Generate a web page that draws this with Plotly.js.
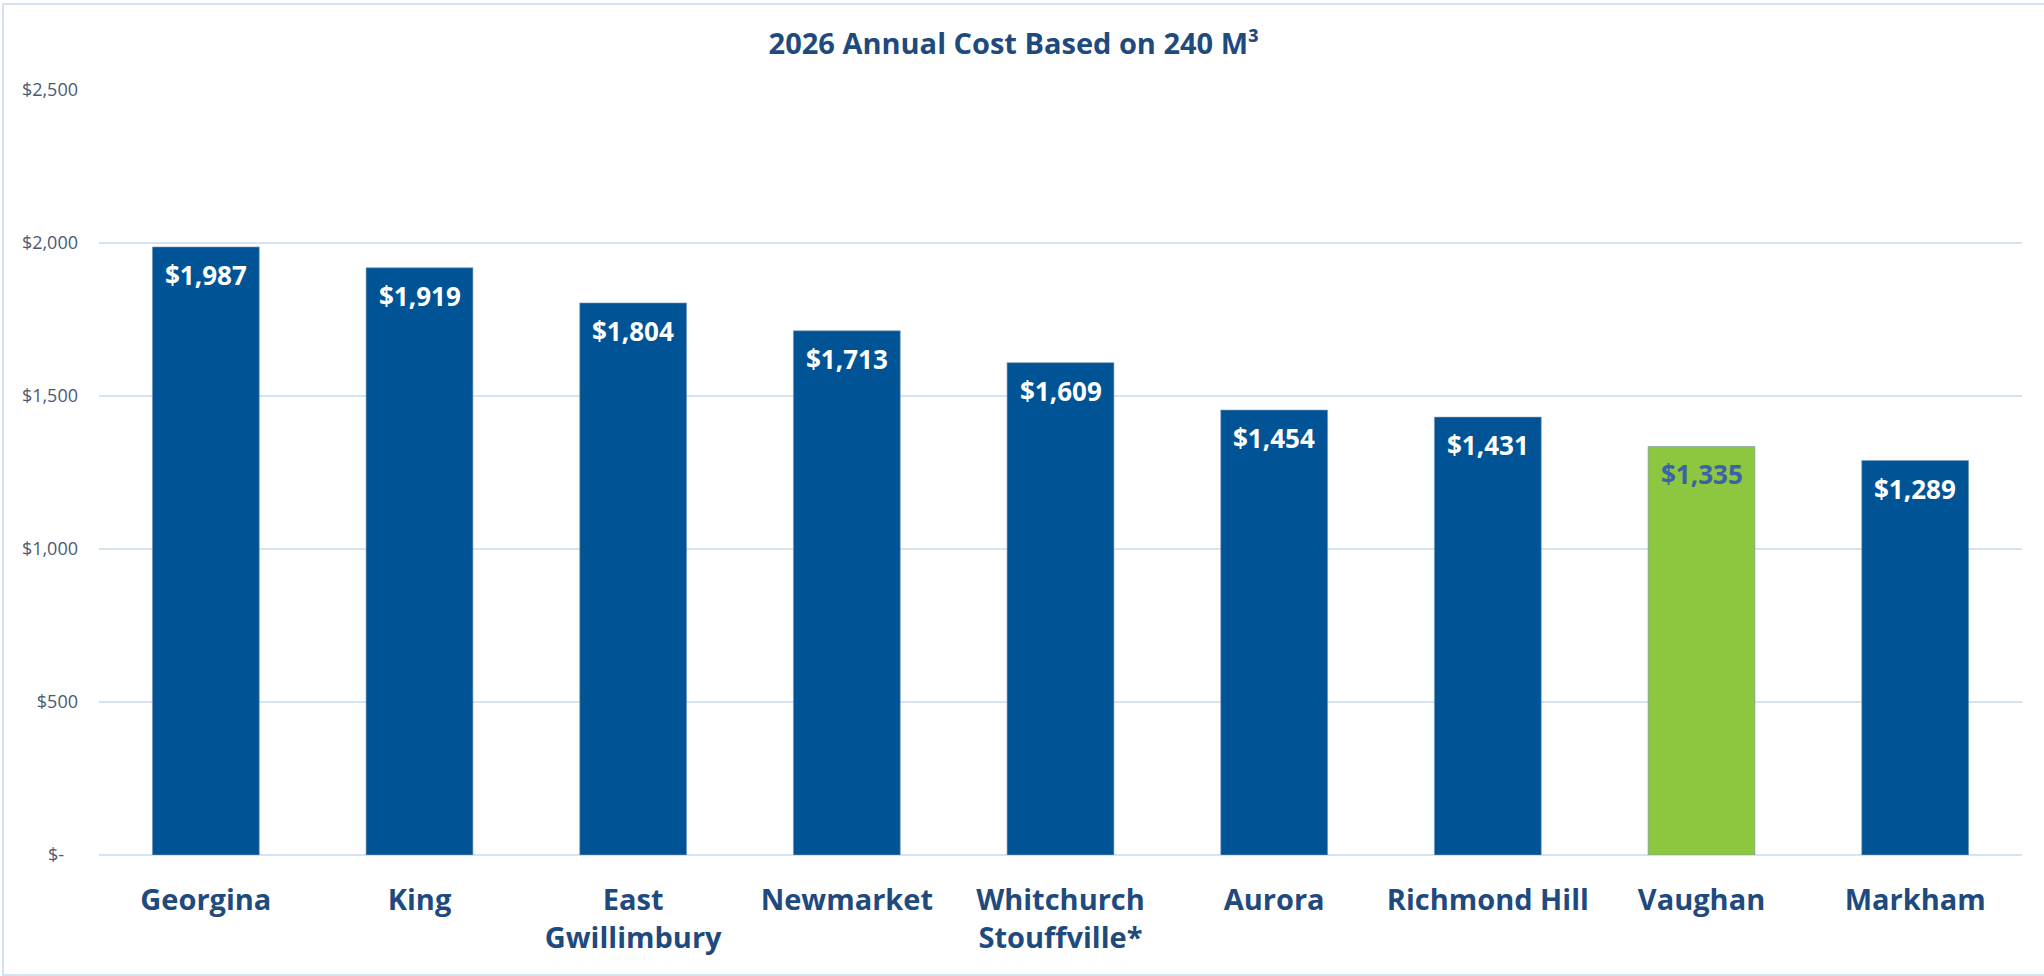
<!DOCTYPE html>
<html>
<head>
<meta charset="utf-8">
<script src="https://cdn.plot.ly/plotly-3.0.1.min.js"></script>
<style>
  html, body { margin: 0; padding: 0; background: #fff; }
  #wrap { position: relative; width: 2044px; height: 976px; overflow: hidden; }
  #chart { width: 2044px; height: 976px; }
  #frame {
    position: absolute; left: 2px; top: 3px; width: 2050px; height: 969px;
    border: 2px solid #D5E2F3; pointer-events: none;
  }
</style>
</head>
<body>
<div id="wrap">
  <div id="chart"></div>
  <div id="frame"></div>
</div>
<script>
// 2026 annual cost based on 240 m3, by municipality
const municipalities = [
  "Georgina", "King", "East<br>Gwillimbury", "Newmarket", "Whitchurch<br>Stouffville*",
  "Aurora", "Richmond Hill", "Vaughan", "Markham"
];
const annualCost = [1987, 1919, 1804, 1713, 1609, 1454, 1431, 1335, 1289];
const costLabels = ["$1,987", "$1,919", "$1,804", "$1,713", "$1,609", "$1,454", "$1,431", "$1,335", "$1,289"];

const yTickVals = [0, 500, 1000, 1500, 2000, 2500];
const yTickText = ["$-\u00a0\u00a0\u00a0", "$500", "$1,000", "$1,500", "$2,000", "$2,500"];

const HIGHLIGHT = "Vaughan";
const BLUE = "#005495";
const GREEN = "#8DC63F";
const NAVY = "#1F4A7E";

const barColors = municipalities.map(m => m === HIGHLIGHT ? GREEN : BLUE);
const labelColors = municipalities.map(m => m === HIGHLIGHT ? "#3A63A6" : "#FFFFFF");

const trace = {
  type: "bar",
  x: municipalities,
  y: annualCost,
  marker: { color: barColors, line: { color: "rgba(120,150,190,0.6)", width: 1 } },
  hoverinfo: "skip"
};

// value labels just inside the top of each bar
const annotations = municipalities.map((m, i) => ({
  x: m,
  y: annualCost[i],
  xref: "x",
  yref: "y",
  text: costLabels[i],
  showarrow: false,
  yanchor: "top",
  yshift: -8,
  font: { family: "Open Sans, sans-serif", size: 26, color: labelColors[i], weight: 700 }
}));

const layout = {
  width: 2044,
  height: 976,
  margin: { l: 99, r: 22, t: 90, b: 121 },
  paper_bgcolor: "#fff",
  plot_bgcolor: "#fff",
  showlegend: false,
  bargap: 0.5,
  title: {
    text: "<b>2026 Annual Cost Based on 240 M³</b>",
    x: 0.496,
    xanchor: "center",
    y: 0.955,
    yanchor: "middle",
    font: { family: "Open Sans, sans-serif", size: 29, color: NAVY }
  },
  xaxis: {
    type: "category",
    showgrid: false,
    showline: false,
    zeroline: false,
    ticks: "",
    ticklabelstandoff: 25,
    tickfont: { family: "Open Sans, sans-serif", size: 29, color: NAVY, weight: 700 }
  },
  yaxis: {
    range: [0, 2500],
    tickvals: yTickVals,
    ticktext: yTickText,
    showgrid: true,
    gridcolor: "#D6E3F3",
    gridwidth: 2,
    zeroline: true,
    zerolinecolor: "#D6E3F3",
    zerolinewidth: 2,
    showline: false,
    ticks: "",
    ticklabelstandoff: 20,
    tickfont: { family: "Open Sans, sans-serif", size: 18, color: "#4A5A74" }
  },
  annotations: annotations
};

Plotly.newPlot("chart", [trace], layout, { displayModeBar: false, staticPlot: true });
</script>
</body>
</html>
